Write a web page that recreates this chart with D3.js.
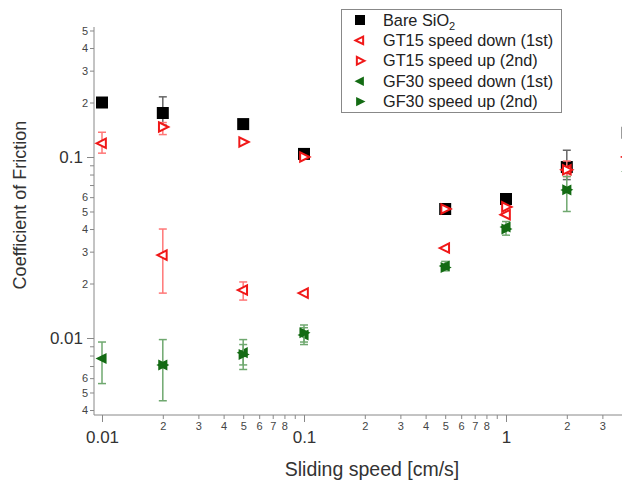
<!DOCTYPE html>
<meta charset="utf-8">
<style>
body { margin: 0; background: #fff; }
text { font-family: "Liberation Sans", Arial, sans-serif; }
.axis path, .axis line { stroke: #888; }
</style>
<body>
<svg width="622" height="482"></svg>
<script src="https://d3js.org/d3.v7.min.js"></script>
<script>
var svg = d3.select("svg");

// sliding speeds (cm/s)
var speeds = [0.01, 0.02, 0.05, 0.1, 0.5, 1, 2, 4];

// coefficient of friction per series (null = no point)
var bareSiO2     = [0.200, 0.175, 0.152, 0.104, 0.0516, 0.0586, 0.088, 0.136];
var bareErrLo    = [null, 0.150, null, null, null, null, 0.075, null];
var bareErrHi    = [null, 0.215, null, null, null, null, 0.109, null];

var gt15Down     = [0.119, 0.0287, 0.0184, 0.0177, 0.0314, 0.048, 0.085, 0.100];
var gt15DownLo   = [0.105, 0.0177, 0.0162, null, null, null, 0.078, null];
var gt15DownHi   = [0.137, 0.040, 0.0204, null, null, null, 0.095, null];

var gt15Up       = [null, 0.1465, 0.121, 0.100, 0.0516, 0.053, 0.085, 0.100];
var gt15UpLo     = [null, 0.133, null, null, null, null, null, null];
var gt15UpHi     = [null, 0.155, null, null, null, null, null, null];

var gf30Down     = [0.0077, 0.0071, 0.0083, 0.0104, 0.0250, 0.041, 0.0657, 0.083];
var gf30DownLo   = [0.0056, 0.0045, 0.0067, 0.0092, 0.0235, 0.037, 0.050, null];
var gf30DownHi   = [0.0095, 0.0098, 0.0098, 0.0118, 0.0265, 0.044, 0.078, null];

var gf30Up       = [null, 0.0071, 0.0081, 0.0107, 0.0245, 0.040, 0.066, 0.083];
var gf30UpLo     = [null, null, 0.0071, 0.0095, null, null, null, null];
var gf30UpHi     = [null, null, 0.0092, 0.0114, null, null, null, null];

var legendLabels = ["Bare SiO", "GT15 speed down (1st)", "GT15 speed up (2nd)",
                    "GF30 speed down (1st)", "GF30 speed up (2nd)"];

var red = "#f01818", green = "#136b13";

// scales: 202 px per decade in x, 181 px per decade in y
var x0 = d3.scaleLog().domain([0.01, 1]).range([102, 506]);
var x = x0.copy().domain([x0.invert(94), x0.invert(650)]).range([94, 650]);
var y0 = d3.scaleLog().domain([0.01, 0.1]).range([338, 157]);
var y = y0.copy().domain([y0.invert(415), y0.invert(27)]).range([415, 27]);

function decadeTicks(lo, hi) {
  var major = [], minor = [];
  for (var e = -3; e <= 1; e++) {
    var b = Math.pow(10, e);
    for (var k = 1; k <= 9; k++) {
      var v = +(k * b).toPrecision(3);
      if (v < lo || v > hi) continue;
      (k === 1 ? major : minor).push(v);
    }
  }
  return {major: major, minor: minor};
}

var xt = decadeTicks(x.domain()[0], x.domain()[1]);
var yt = decadeTicks(y.domain()[0], y.domain()[1]);
function leadDigit(v) { return String(v.toExponential(0)).charAt(0); }

// x axis
var gx = svg.append("g").attr("class", "axis").attr("transform", "translate(0,415)");
gx.call(d3.axisBottom(x).tickValues(xt.minor).tickSize(4).tickPadding(3)
    .tickFormat(function(d) { var c = leadDigit(d); return (c === "9" || x(d) > 615) ? "" : c; }))
  .selectAll("text").attr("font-size", 11).attr("fill", "#444");
gx.select(".domain").attr("d", "M94,0H650");
var gx2 = svg.append("g").attr("class", "axis").attr("transform", "translate(0,415)");
gx2.call(d3.axisBottom(x).tickValues(xt.major).tickSize(7).tickPadding(9)
    .tickFormat(function(d) { return String(d); }))
  .selectAll("text").attr("font-size", 17).attr("fill", "#333");
gx2.select(".domain").remove();

// y axis
var gy = svg.append("g").attr("class", "axis").attr("transform", "translate(94,0)");
gy.call(d3.axisLeft(y).tickValues(yt.minor).tickSize(4).tickPadding(2)
    .tickFormat(function(d) { var c = leadDigit(d); return (c === "7" || c === "8" || c === "9") ? "" : c; }))
  .selectAll("text").attr("font-size", 11).attr("fill", "#444");
gy.select(".domain").attr("d", "M0,415V27");
var gy2 = svg.append("g").attr("class", "axis").attr("transform", "translate(94,0)");
gy2.call(d3.axisLeft(y).tickValues(yt.major).tickSize(7).tickPadding(4)
    .tickFormat(function(d) { return String(d); }))
  .selectAll("text").attr("font-size", 17).attr("fill", "#333");
gy2.select(".domain").remove();

// axis titles
svg.append("text").attr("x", 372).attr("y", 476).attr("text-anchor", "middle")
  .attr("font-size", 19.5).attr("fill", "#333").text("Sliding speed [cm/s]");
svg.append("text").attr("transform", "translate(26,205) rotate(-90)").attr("text-anchor", "middle")
  .attr("font-size", 18).attr("fill", "#333").text("Coefficient of Friction");

// markers
function triLeft(s) { return "M" + (-s) + ",0L" + (s * 0.7) + "," + (-s * 0.85) + "L" + (s * 0.7) + "," + (s * 0.85) + "Z"; }
function triRight(s) { return "M" + s + ",0L" + (-s * 0.7) + "," + (-s * 0.85) + "L" + (-s * 0.7) + "," + (s * 0.85) + "Z"; }
var square = "M-6,-6H6V6H-6Z";

var series = [
  {vals: bareSiO2, lo: bareErrLo, hi: bareErrHi, path: square, fill: "#000", stroke: "none", err: "#666"},
  {vals: gt15Down, lo: gt15DownLo, hi: gt15DownHi, path: triLeft(5.5), fill: "#fff", stroke: red, err: "#f77"},
  {vals: gt15Up, lo: gt15UpLo, hi: gt15UpHi, path: triRight(5.5), fill: "#fff", stroke: red, err: "#f77"},
  {vals: gf30Down, lo: gf30DownLo, hi: gf30DownHi, path: triLeft(6.5), fill: green, stroke: "none", err: "#6fa86f"},
  {vals: gf30Up, lo: gf30UpLo, hi: gf30UpHi, path: triRight(6.5), fill: green, stroke: "none", err: "#6fa86f"}
];

var plot = svg.append("g");
series.forEach(function(s) {
  var pts = speeds.map(function(sp, i) { return {x: sp, v: s.vals[i], lo: s.lo[i], hi: s.hi[i]}; })
    .filter(function(d) { return d.v !== null; });
  var eb = pts.filter(function(d) { return d.lo !== null; });
  var ge = plot.append("g").attr("stroke", s.err).attr("stroke-width", 1.5);
  ge.selectAll(".v").data(eb).enter().append("line")
    .attr("x1", function(d) { return x(d.x); }).attr("x2", function(d) { return x(d.x); })
    .attr("y1", function(d) { return y(d.lo); }).attr("y2", function(d) { return y(d.hi); });
  ["lo", "hi"].forEach(function(k) {
    ge.selectAll(".c" + k).data(eb).enter().append("line")
      .attr("x1", function(d) { return x(d.x) - 4; }).attr("x2", function(d) { return x(d.x) + 4; })
      .attr("y1", function(d) { return y(d[k]); }).attr("y2", function(d) { return y(d[k]); });
  });
  plot.append("g").selectAll("path").data(pts).enter().append("path")
    .attr("d", s.path)
    .attr("transform", function(d) { return "translate(" + x(d.x) + "," + y(d.v) + ")"; })
    .attr("fill", s.fill).attr("stroke", s.stroke).attr("stroke-width", 2);
});

// legend
var lg = svg.append("g");
lg.append("rect").attr("x", 341.5).attr("y", 9.5).attr("width", 220).attr("height", 103)
  .attr("fill", "#fff").attr("stroke", "#888").attr("stroke-width", 1);
var legendMarks = [
  {path: "M-5,-5H5V5H-5Z", fill: "#000", stroke: "none"},
  {path: triLeft(4.5), fill: "#fff", stroke: red},
  {path: triRight(4.5), fill: "#fff", stroke: red},
  {path: triLeft(5.5), fill: green, stroke: "none"},
  {path: triRight(5.5), fill: green, stroke: "none"}
];
legendLabels.forEach(function(lbl, i) {
  var yy = 20 + i * 20.4;
  lg.append("path").attr("d", legendMarks[i].path).attr("transform", "translate(360," + yy + ")")
    .attr("fill", legendMarks[i].fill).attr("stroke", legendMarks[i].stroke).attr("stroke-width", 2);
  var t = lg.append("text").attr("x", 383).attr("y", yy + 5.5).attr("font-size", 16.3).attr("fill", "#222").text(lbl);
  if (i === 0) t.append("tspan").attr("font-size", 11).attr("dy", 4).text("2");
});
</script>
</body>
